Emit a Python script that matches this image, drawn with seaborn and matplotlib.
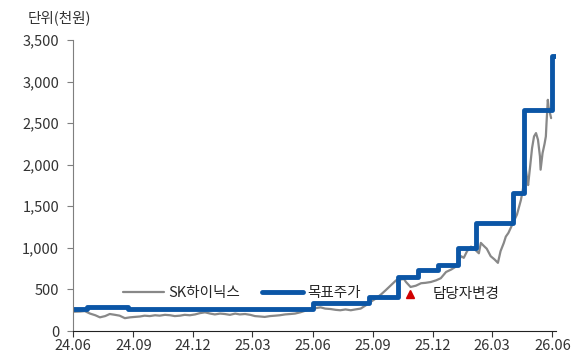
import matplotlib
matplotlib.use("Agg")
import matplotlib.pyplot as plt
import matplotlib.dates as mdates
from matplotlib.ticker import FuncFormatter
import pandas as pd
import seaborn as sns

# SK hynix closing price (thousand KRW)
price_dates = [
    "2024-06-01", "2024-06-12", "2024-06-19", "2024-06-27", "2024-07-05", "2024-07-12",
    "2024-07-20", "2024-07-27", "2024-08-04", "2024-08-11", "2024-08-19", "2024-08-27",
    "2024-09-03", "2024-09-11", "2024-09-18", "2024-09-26", "2024-10-04", "2024-10-11",
    "2024-10-19", "2024-10-27", "2024-11-03", "2024-11-11", "2024-11-18", "2024-11-26",
    "2024-12-04", "2024-12-11", "2024-12-19", "2024-12-27", "2025-01-03", "2025-01-11",
    "2025-01-18", "2025-01-26", "2025-02-03", "2025-02-10", "2025-02-18", "2025-02-26",
    "2025-03-05", "2025-03-13", "2025-03-20", "2025-03-28", "2025-04-05", "2025-04-12",
    "2025-04-20", "2025-04-28", "2025-05-05", "2025-05-13", "2025-05-21", "2025-05-28",
    "2025-06-05", "2025-06-13", "2025-06-20", "2025-06-28", "2025-07-06", "2025-07-13",
    "2025-07-21", "2025-07-29", "2025-08-05", "2025-08-13", "2025-08-21", "2025-08-28",
    "2025-09-05", "2025-09-13", "2025-09-20", "2025-09-28", "2025-10-06", "2025-10-13",
    "2025-10-18", "2025-10-21", "2025-10-28", "2025-11-05", "2025-11-13", "2025-11-20",
    "2025-11-28", "2025-12-06", "2025-12-13", "2025-12-21", "2025-12-29", "2026-01-05",
    "2026-01-08", "2026-01-13", "2026-01-17", "2026-01-22", "2026-01-28", "2026-02-03",
    "2026-02-09", "2026-02-12", "2026-02-17", "2026-02-21", "2026-02-27", "2026-03-05",
    "2026-03-10", "2026-03-14", "2026-03-19", "2026-03-22", "2026-03-26", "2026-04-02",
    "2026-04-08", "2026-04-14", "2026-04-17", "2026-04-20", "2026-04-21", "2026-04-24",
    "2026-04-25", "2026-04-28", "2026-05-01", "2026-05-04", "2026-05-07", "2026-05-10",
    "2026-05-13", "2026-05-14", "2026-05-17", "2026-05-20", "2026-05-22", "2026-05-23",
    "2026-05-25", "2026-05-26", "2026-05-30",
]
price_values = [
    232, 235, 240, 210, 190, 165,
    180, 205, 195, 185, 155, 165,
    170, 175, 185, 180, 190, 185,
    195, 190, 180, 185, 195, 190,
    200, 215, 225, 210, 200, 210,
    205, 195, 210, 200, 205, 195,
    180, 175, 170, 180, 185, 190,
    200, 205, 210, 225, 245, 265,
    275, 285, 270, 265, 255, 250,
    260, 250, 260, 270, 310, 350,
    390, 440, 490, 550, 610, 620,
    625, 590, 530, 545, 575, 580,
    590, 610, 635, 710, 740, 775,
    830, 900, 880, 960, 1015, 980,
    935, 1060, 1020, 990, 900, 860,
    820, 960, 1060, 1135, 1180, 1300,
    1400, 1575, 1700, 1900, 1975, 1800,
    1755, 1975, 2200, 2340, 2380, 2300,
    2100, 1940, 2140, 2250, 2340, 2500,
    2780, 2700, 2560,
]

# Target price (thousand KRW), step changes
target_dates = [
    "2024-06-01", "2024-06-22", "2024-08-24", "2024-12-31", "2025-06-02",
    "2025-08-25", "2025-10-09", "2025-11-09", "2025-12-09", "2026-01-08",
    "2026-02-04", "2026-04-02", "2026-04-18", "2026-06-01", "2026-06-06",
]
target_values = [
    260, 290, 260, 270, 340,
    410, 650, 730, 800, 1000,
    1300, 1660, 2660, 3310, 3310,
]

analyst_change_date = "2025-10-27"
analyst_change_value = 445

price_df = pd.DataFrame({"date": pd.to_datetime(price_dates), "value": price_values})
target_df = pd.DataFrame({"date": pd.to_datetime(target_dates), "value": target_values})

sns.set_style("white")
plt.rcParams["font.family"] = ["Noto Sans CJK KR", "DejaVu Sans"]

fig = plt.figure(figsize=(5.81, 3.63), dpi=100)
ax = fig.add_axes([0.1256, 0.088, 0.832, 0.802])

sns.lineplot(data=price_df, x="date", y="value", ax=ax, color="#888888",
             linewidth=1.6, label="SK하이닉스")
sns.lineplot(data=target_df, x="date", y="value", ax=ax, color="#0b56a6",
             linewidth=3.5, drawstyle="steps-post", label="목표주가")

ax.plot(pd.to_datetime(analyst_change_date), analyst_change_value, marker="^",
        color="#d00000", markersize=5.5, linestyle="none")
ax.text(pd.to_datetime("2025-12-01"), analyst_change_value, "담당자변경",
        fontsize=10.5, va="center", ha="left", color="#222222")

ax.set_xlim(pd.Timestamp("2024-06-01"), pd.Timestamp("2026-06-07"))
ax.set_ylim(0, 3500)
ax.set_yticks(range(0, 3501, 500))
ax.yaxis.set_major_formatter(FuncFormatter(lambda v, p: f"{int(v):,}"))

xticks = pd.to_datetime(["2024-06-01", "2024-09-01", "2024-12-01", "2025-03-01",
                         "2025-06-01", "2025-09-01", "2025-12-01", "2026-03-01",
                         "2026-06-01"])
ax.set_xticks(xticks)
ax.xaxis.set_major_formatter(mdates.DateFormatter("%y.%m"))

ax.set_xlabel("")
ax.set_ylabel("")
for side in ["top", "right"]:
    ax.spines[side].set_visible(False)
ax.spines["left"].set_color("#7f7f7f")
ax.spines["bottom"].set_color("#222222")
ax.tick_params(axis="both", labelsize=10.5, colors="#333333", length=4,
               direction="out", left=True, bottom=True)
ax.tick_params(axis="x", pad=2)
ax.tick_params(axis="y", color="#7f7f7f", pad=6)

ax.legend(loc="center", bbox_to_anchor=(0.35, 0.13), ncol=2, frameon=False,
          fontsize=10.5, handlelength=2.8, columnspacing=1.5, handletextpad=0.3)

fig.text(28 / 581, 1 - 18 / 363, "단위(천원)", fontsize=10.5, va="center",
         ha="left", color="#333333")

fig.savefig("out.png", dpi=100)
